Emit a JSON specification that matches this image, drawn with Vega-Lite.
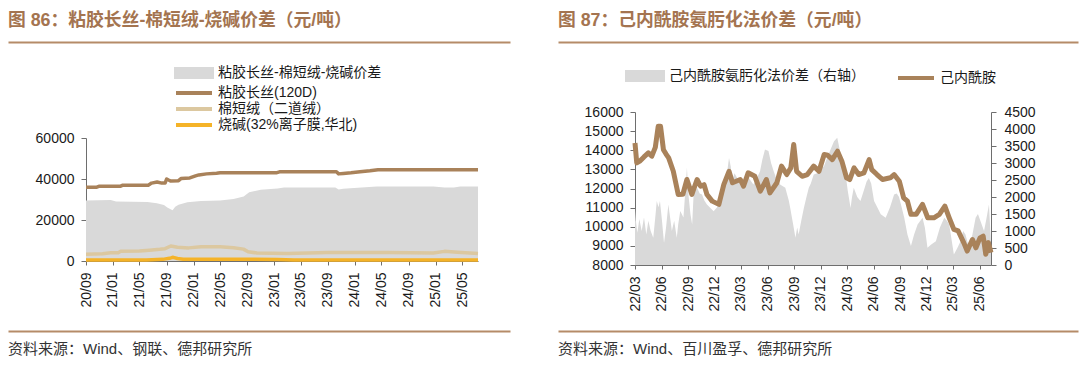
{
  "$schema": "https://vega.github.io/schema/vega-lite/v6.json",
  "background": "white",
  "padding": {"left": 8, "top": 0, "right": 0, "bottom": 0},
  "spacing": -30,
  "resolve": {"scale": {"color": "independent"}, "legend": {"color": "independent"}},
  "config": {
    "view": {"stroke": null},
    "font": "Liberation Sans, Noto Sans CJK SC",
    "axis": {"labelFont": "Liberation Sans, Noto Sans CJK SC", "labelFontSize": 14, "labelColor": "#1a1a1a", "domainColor": "#6e6e6e", "tickColor": "#6e6e6e", "tickSize": 5, "grid": false, "title": null},
    "legend": {"labelFont": "Liberation Sans, Noto Sans CJK SC", "labelFontSize": 14, "labelColor": "#1a1a1a", "padding": 0}
  },
  "datasets": {
    "spreadL": [
      {"date": "2020-09-01", "v": 29500}, {"date": "2020-12-22", "v": 29700}, {"date": "2021-01-15", "v": 29000},
      {"date": "2021-06-06", "v": 28800}, {"date": "2021-07-19", "v": 28200}, {"date": "2021-08-20", "v": 27300},
      {"date": "2021-09-04", "v": 26100}, {"date": "2021-09-28", "v": 24800}, {"date": "2021-10-10", "v": 26500},
      {"date": "2021-10-25", "v": 27500}, {"date": "2021-12-04", "v": 28600}, {"date": "2022-02-04", "v": 29300},
      {"date": "2022-05-01", "v": 29500}, {"date": "2022-07-01", "v": 30200}, {"date": "2022-08-16", "v": 31500},
      {"date": "2022-09-10", "v": 33500}, {"date": "2022-11-01", "v": 34800}, {"date": "2023-01-16", "v": 35400},
      {"date": "2023-02-15", "v": 35900}, {"date": "2023-10-05", "v": 35900}, {"date": "2023-10-20", "v": 34900},
      {"date": "2023-11-10", "v": 35200}, {"date": "2023-12-12", "v": 35500}, {"date": "2024-04-10", "v": 36300},
      {"date": "2024-12-22", "v": 36300}, {"date": "2025-02-10", "v": 35800}, {"date": "2025-03-25", "v": 35900},
      {"date": "2025-04-22", "v": 36300}, {"date": "2025-07-12", "v": 36400}
    ],
    "linesL": [
      {"date": "2020-09-01", "s": "棉短绒（二道绒）", "v": 3300}, {"date": "2020-11-15", "s": "棉短绒（二道绒）", "v": 3500},
      {"date": "2020-12-22", "s": "棉短绒（二道绒）", "v": 4000}, {"date": "2021-01-25", "s": "棉短绒（二道绒）", "v": 4000},
      {"date": "2021-02-05", "s": "棉短绒（二道绒）", "v": 4700}, {"date": "2021-05-01", "s": "棉短绒（二道绒）", "v": 4900},
      {"date": "2021-06-15", "s": "棉短绒（二道绒）", "v": 5300}, {"date": "2021-08-01", "s": "棉短绒（二道绒）", "v": 5700},
      {"date": "2021-08-25", "s": "棉短绒（二道绒）", "v": 6000}, {"date": "2021-09-20", "s": "棉短绒（二道绒）", "v": 7300},
      {"date": "2021-10-20", "s": "棉短绒（二道绒）", "v": 6700}, {"date": "2021-12-10", "s": "棉短绒（二道绒）", "v": 6400},
      {"date": "2022-02-04", "s": "棉短绒（二道绒）", "v": 7000}, {"date": "2022-05-01", "s": "棉短绒（二道绒）", "v": 7000},
      {"date": "2022-07-01", "s": "棉短绒（二道绒）", "v": 6500}, {"date": "2022-08-15", "s": "棉短绒（二道绒）", "v": 5800},
      {"date": "2022-09-05", "s": "棉短绒（二道绒）", "v": 4500}, {"date": "2022-10-15", "s": "棉短绒（二道绒）", "v": 3900},
      {"date": "2023-03-01", "s": "棉短绒（二道绒）", "v": 3700}, {"date": "2023-09-01", "s": "棉短绒（二道绒）", "v": 4100},
      {"date": "2024-06-01", "s": "棉短绒（二道绒）", "v": 4100}, {"date": "2024-12-22", "s": "棉短绒（二道绒）", "v": 3900},
      {"date": "2025-02-10", "s": "棉短绒（二道绒）", "v": 4700}, {"date": "2025-04-10", "s": "棉短绒（二道绒）", "v": 4300},
      {"date": "2025-07-12", "s": "棉短绒（二道绒）", "v": 3700},
      {"date": "2020-09-01", "s": "烧碱(32%离子膜,华北)", "v": 500}, {"date": "2021-06-01", "s": "烧碱(32%离子膜,华北)", "v": 500},
      {"date": "2021-08-15", "s": "烧碱(32%离子膜,华北)", "v": 800}, {"date": "2021-09-20", "s": "烧碱(32%离子膜,华北)", "v": 1500},
      {"date": "2021-10-01", "s": "烧碱(32%离子膜,华北)", "v": 1800}, {"date": "2021-10-20", "s": "烧碱(32%离子膜,华北)", "v": 1200},
      {"date": "2021-11-15", "s": "烧碱(32%离子膜,华北)", "v": 900}, {"date": "2022-10-01", "s": "烧碱(32%离子膜,华北)", "v": 900},
      {"date": "2023-01-15", "s": "烧碱(32%离子膜,华北)", "v": 700}, {"date": "2023-04-01", "s": "烧碱(32%离子膜,华北)", "v": 500},
      {"date": "2025-07-12", "s": "烧碱(32%离子膜,华北)", "v": 500},
      {"date": "2020-09-01", "s": "粘胶长丝(120D)", "v": 36000}, {"date": "2020-10-20", "s": "粘胶长丝(120D)", "v": 36000},
      {"date": "2020-11-01", "s": "粘胶长丝(120D)", "v": 36500}, {"date": "2021-02-05", "s": "粘胶长丝(120D)", "v": 36500},
      {"date": "2021-02-15", "s": "粘胶长丝(120D)", "v": 37000}, {"date": "2021-06-10", "s": "粘胶长丝(120D)", "v": 37000},
      {"date": "2021-06-25", "s": "粘胶长丝(120D)", "v": 38000}, {"date": "2021-07-20", "s": "粘胶长丝(120D)", "v": 38500},
      {"date": "2021-08-10", "s": "粘胶长丝(120D)", "v": 38000}, {"date": "2021-08-25", "s": "粘胶长丝(120D)", "v": 38000},
      {"date": "2021-09-01", "s": "粘胶长丝(120D)", "v": 40000}, {"date": "2021-09-10", "s": "粘胶长丝(120D)", "v": 39500},
      {"date": "2021-09-20", "s": "粘胶长丝(120D)", "v": 39000}, {"date": "2021-10-25", "s": "粘胶长丝(120D)", "v": 39200},
      {"date": "2021-11-05", "s": "粘胶长丝(120D)", "v": 40200}, {"date": "2021-12-15", "s": "粘胶长丝(120D)", "v": 40500},
      {"date": "2022-01-10", "s": "粘胶长丝(120D)", "v": 41500}, {"date": "2022-01-25", "s": "粘胶长丝(120D)", "v": 42000},
      {"date": "2022-03-01", "s": "粘胶长丝(120D)", "v": 42500}, {"date": "2022-04-15", "s": "粘胶长丝(120D)", "v": 42800},
      {"date": "2022-05-01", "s": "粘胶长丝(120D)", "v": 43000}, {"date": "2023-01-10", "s": "粘胶长丝(120D)", "v": 43000},
      {"date": "2023-01-25", "s": "粘胶长丝(120D)", "v": 43500}, {"date": "2023-10-10", "s": "粘胶长丝(120D)", "v": 43500},
      {"date": "2023-10-20", "s": "粘胶长丝(120D)", "v": 42500}, {"date": "2023-11-10", "s": "粘胶长丝(120D)", "v": 42700},
      {"date": "2023-12-15", "s": "粘胶长丝(120D)", "v": 43000}, {"date": "2024-01-25", "s": "粘胶长丝(120D)", "v": 43500},
      {"date": "2024-03-10", "s": "粘胶长丝(120D)", "v": 44000}, {"date": "2024-04-15", "s": "粘胶长丝(120D)", "v": 44500},
      {"date": "2025-07-12", "s": "粘胶长丝(120D)", "v": 44500}
    ],
    "spreadR": [
      {"date": "2022-03-01", "v": 1680}, {"date": "2022-03-04", "v": 1300}, {"date": "2022-03-09", "v": 950},
      {"date": "2022-03-16", "v": 1350}, {"date": "2022-03-24", "v": 1000}, {"date": "2022-04-01", "v": 1400},
      {"date": "2022-04-09", "v": 900}, {"date": "2022-04-16", "v": 1300}, {"date": "2022-04-24", "v": 1000},
      {"date": "2022-05-03", "v": 800}, {"date": "2022-05-11", "v": 1500}, {"date": "2022-05-15", "v": 1880},
      {"date": "2022-05-21", "v": 1700}, {"date": "2022-05-26", "v": 1880}, {"date": "2022-06-02", "v": 1300},
      {"date": "2022-06-09", "v": 650}, {"date": "2022-06-16", "v": 1100}, {"date": "2022-06-24", "v": 1780},
      {"date": "2022-06-30", "v": 1400}, {"date": "2022-07-06", "v": 1000}, {"date": "2022-07-14", "v": 1300},
      {"date": "2022-07-23", "v": 800}, {"date": "2022-07-28", "v": 1200}, {"date": "2022-08-04", "v": 1590},
      {"date": "2022-08-15", "v": 1400}, {"date": "2022-08-27", "v": 2860}, {"date": "2022-09-02", "v": 2000},
      {"date": "2022-09-08", "v": 1500}, {"date": "2022-09-14", "v": 1190}, {"date": "2022-09-19", "v": 2070},
      {"date": "2022-10-01", "v": 2270}, {"date": "2022-10-10", "v": 2100}, {"date": "2022-10-18", "v": 2070},
      {"date": "2022-10-26", "v": 1900}, {"date": "2022-11-04", "v": 1780}, {"date": "2022-11-16", "v": 1680},
      {"date": "2022-11-27", "v": 1580}, {"date": "2022-12-09", "v": 1700}, {"date": "2022-12-20", "v": 1880},
      {"date": "2023-01-01", "v": 2300}, {"date": "2023-01-13", "v": 2760}, {"date": "2023-01-19", "v": 3150},
      {"date": "2023-01-25", "v": 2900}, {"date": "2023-01-30", "v": 2470}, {"date": "2023-02-07", "v": 2700},
      {"date": "2023-02-16", "v": 2560}, {"date": "2023-02-28", "v": 2370}, {"date": "2023-03-10", "v": 2500},
      {"date": "2023-03-21", "v": 2660}, {"date": "2023-04-02", "v": 2500}, {"date": "2023-04-13", "v": 2370},
      {"date": "2023-04-25", "v": 2550}, {"date": "2023-05-06", "v": 2760}, {"date": "2023-05-14", "v": 3100},
      {"date": "2023-05-23", "v": 3400}, {"date": "2023-06-04", "v": 3350}, {"date": "2023-06-13", "v": 3000},
      {"date": "2023-06-22", "v": 2760}, {"date": "2023-07-03", "v": 2500}, {"date": "2023-07-14", "v": 2370},
      {"date": "2023-08-01", "v": 2270}, {"date": "2023-08-13", "v": 1900}, {"date": "2023-08-18", "v": 1680},
      {"date": "2023-08-28", "v": 1200}, {"date": "2023-09-05", "v": 800}, {"date": "2023-09-11", "v": 1100},
      {"date": "2023-09-16", "v": 900}, {"date": "2023-09-25", "v": 1300}, {"date": "2023-10-04", "v": 1680},
      {"date": "2023-10-13", "v": 2000}, {"date": "2023-10-21", "v": 2270}, {"date": "2023-10-28", "v": 2400},
      {"date": "2023-11-07", "v": 2660}, {"date": "2023-11-19", "v": 2700}, {"date": "2023-11-30", "v": 2860},
      {"date": "2023-12-12", "v": 2900}, {"date": "2023-12-23", "v": 3150}, {"date": "2024-01-04", "v": 3400},
      {"date": "2024-01-16", "v": 3640}, {"date": "2024-01-27", "v": 3740}, {"date": "2024-02-02", "v": 3500},
      {"date": "2024-02-08", "v": 3250}, {"date": "2024-02-17", "v": 3000}, {"date": "2024-02-25", "v": 2660},
      {"date": "2024-03-03", "v": 2200}, {"date": "2024-03-13", "v": 1680}, {"date": "2024-03-18", "v": 2000},
      {"date": "2024-03-24", "v": 2270}, {"date": "2024-04-05", "v": 2000}, {"date": "2024-04-16", "v": 1880},
      {"date": "2024-04-28", "v": 2200}, {"date": "2024-05-07", "v": 2450}, {"date": "2024-05-15", "v": 2560},
      {"date": "2024-05-23", "v": 2400}, {"date": "2024-06-02", "v": 1880}, {"date": "2024-06-13", "v": 1700},
      {"date": "2024-06-25", "v": 1490}, {"date": "2024-07-12", "v": 1390}, {"date": "2024-07-27", "v": 1700},
      {"date": "2024-08-10", "v": 2070}, {"date": "2024-08-19", "v": 2100}, {"date": "2024-08-27", "v": 2000},
      {"date": "2024-09-05", "v": 1700}, {"date": "2024-09-14", "v": 1390}, {"date": "2024-09-25", "v": 900},
      {"date": "2024-10-07", "v": 560}, {"date": "2024-10-18", "v": 900}, {"date": "2024-10-30", "v": 1190},
      {"date": "2024-11-16", "v": 1390}, {"date": "2024-11-24", "v": 1100}, {"date": "2024-12-03", "v": 510},
      {"date": "2024-12-16", "v": 600}, {"date": "2025-01-01", "v": 700}, {"date": "2025-01-15", "v": 1100},
      {"date": "2025-01-30", "v": 1390}, {"date": "2025-02-08", "v": 1300}, {"date": "2025-02-16", "v": 1190},
      {"date": "2025-02-25", "v": 700}, {"date": "2025-03-04", "v": 310}, {"date": "2025-03-16", "v": 500},
      {"date": "2025-03-27", "v": 700}, {"date": "2025-04-05", "v": 1000}, {"date": "2025-04-13", "v": 900},
      {"date": "2025-04-25", "v": 510}, {"date": "2025-05-07", "v": 900}, {"date": "2025-05-18", "v": 1390},
      {"date": "2025-05-26", "v": 1500}, {"date": "2025-06-04", "v": 1290}, {"date": "2025-06-16", "v": 1000},
      {"date": "2025-06-25", "v": 1400}, {"date": "2025-07-03", "v": 1780}, {"date": "2025-07-10", "v": 600}
    ],
    "priceR": [
      {"date": "2022-03-01", "v": 14380}, {"date": "2022-03-07", "v": 13340}, {"date": "2022-03-19", "v": 13450},
      {"date": "2022-04-01", "v": 13650}, {"date": "2022-04-16", "v": 13860}, {"date": "2022-04-28", "v": 13690},
      {"date": "2022-05-10", "v": 14150}, {"date": "2022-05-20", "v": 15250}, {"date": "2022-05-28", "v": 15250},
      {"date": "2022-06-07", "v": 14030}, {"date": "2022-06-16", "v": 13800}, {"date": "2022-06-25", "v": 13600},
      {"date": "2022-07-11", "v": 12900}, {"date": "2022-07-28", "v": 11690}, {"date": "2022-08-13", "v": 11700},
      {"date": "2022-08-27", "v": 12470}, {"date": "2022-09-13", "v": 11690}, {"date": "2022-10-01", "v": 12470},
      {"date": "2022-10-13", "v": 12120}, {"date": "2022-10-25", "v": 12200}, {"date": "2022-11-04", "v": 11690},
      {"date": "2022-11-22", "v": 11340}, {"date": "2022-12-15", "v": 11170}, {"date": "2023-01-01", "v": 12200},
      {"date": "2023-01-19", "v": 12900}, {"date": "2023-01-31", "v": 12300}, {"date": "2023-02-27", "v": 12470},
      {"date": "2023-03-10", "v": 12120}, {"date": "2023-03-26", "v": 12820}, {"date": "2023-04-18", "v": 12640},
      {"date": "2023-05-07", "v": 11860}, {"date": "2023-05-28", "v": 12470}, {"date": "2023-06-09", "v": 11770},
      {"date": "2023-07-03", "v": 12300}, {"date": "2023-07-19", "v": 13170}, {"date": "2023-08-06", "v": 12730},
      {"date": "2023-08-20", "v": 13080}, {"date": "2023-08-30", "v": 14300}, {"date": "2023-09-09", "v": 12900},
      {"date": "2023-09-28", "v": 12640}, {"date": "2023-10-16", "v": 12730}, {"date": "2023-11-07", "v": 13170},
      {"date": "2023-11-25", "v": 12900}, {"date": "2023-12-13", "v": 13780}, {"date": "2023-12-25", "v": 13740},
      {"date": "2024-01-10", "v": 13510}, {"date": "2024-01-28", "v": 13950}, {"date": "2024-02-12", "v": 13430},
      {"date": "2024-02-28", "v": 12560}, {"date": "2024-03-10", "v": 12470}, {"date": "2024-03-25", "v": 13080},
      {"date": "2024-04-10", "v": 12730}, {"date": "2024-04-28", "v": 12820}, {"date": "2024-05-16", "v": 13510},
      {"date": "2024-05-25", "v": 12990}, {"date": "2024-06-12", "v": 12730}, {"date": "2024-07-01", "v": 12470},
      {"date": "2024-07-28", "v": 12560}, {"date": "2024-08-10", "v": 12730}, {"date": "2024-08-28", "v": 12380},
      {"date": "2024-09-12", "v": 11510}, {"date": "2024-09-25", "v": 11340}, {"date": "2024-10-07", "v": 10650},
      {"date": "2024-10-25", "v": 10650}, {"date": "2024-11-16", "v": 11170}, {"date": "2024-12-04", "v": 10470},
      {"date": "2024-12-25", "v": 10470}, {"date": "2025-01-13", "v": 10650}, {"date": "2025-02-01", "v": 11080},
      {"date": "2025-02-16", "v": 10470}, {"date": "2025-03-04", "v": 9860}, {"date": "2025-03-19", "v": 9780},
      {"date": "2025-04-07", "v": 9170}, {"date": "2025-04-19", "v": 8730}, {"date": "2025-05-07", "v": 9330},
      {"date": "2025-05-19", "v": 8900}, {"date": "2025-06-02", "v": 9420}, {"date": "2025-06-13", "v": 9510},
      {"date": "2025-06-22", "v": 8560}, {"date": "2025-07-01", "v": 9170}, {"date": "2025-07-10", "v": 8650}
    ]
  },
  "hconcat": [
    {
      "spacing": 24,
      "resolve": {"scale": {"color": "independent"}, "legend": {"color": "independent"}},
      "vconcat": [
        {
          "width": 424, "height": 42,
          "data": {"values": [{"x": 0, "t": "图 86：粘胶长丝-棉短绒-烧碱价差（元/吨）"}]},
          "mark": {"type": "text", "align": "left", "baseline": "middle", "fontSize": 17.8, "fontWeight": "bold", "color": "#a47450"},
          "encoding": {
            "x": {"field": "x", "type": "quantitative", "scale": {"domain": [0, 1], "nice": false, "range": [-78, 424]}, "axis": {"orient": "bottom", "domain": true, "domainColor": "#b58b68", "domainWidth": 2, "ticks": false, "labels": false, "grid": false, "title": null}},
            "text": {"field": "t"}
          }
        },
        {
          "spacing": 23,
          "resolve": {"scale": {"color": "independent"}, "legend": {"color": "independent"}},
          "vconcat": [
            {
              "width": 392, "height": 123,
              "layer": [
                {
                  "data": {"name": "spreadL"},
                  "mark": {"type": "area"},
                  "encoding": {
                    "x": {"field": "date", "type": "temporal", "scale": {"type": "utc", "domain": [{"year": 2020, "month": 9, "date": 1, "utc": true}, {"year": 2025, "month": 7, "date": 12, "utc": true}]},
                      "axis": {"format": "%y/%m", "labelAngle": -90, "labelPadding": 7, "tickSize": 4, "tickCount": 30, "labelOverlap": false, "labelFlush": false,
                        "values": [{"year": 2020, "month": 9, "date": 1, "utc": true}, {"year": 2021, "month": 1, "date": 1, "utc": true}, {"year": 2021, "month": 5, "date": 1, "utc": true}, {"year": 2021, "month": 9, "date": 1, "utc": true}, {"year": 2022, "month": 1, "date": 1, "utc": true}, {"year": 2022, "month": 5, "date": 1, "utc": true}, {"year": 2022, "month": 9, "date": 1, "utc": true}, {"year": 2023, "month": 1, "date": 1, "utc": true}, {"year": 2023, "month": 5, "date": 1, "utc": true}, {"year": 2023, "month": 9, "date": 1, "utc": true}, {"year": 2024, "month": 1, "date": 1, "utc": true}, {"year": 2024, "month": 5, "date": 1, "utc": true}, {"year": 2024, "month": 9, "date": 1, "utc": true}, {"year": 2025, "month": 1, "date": 1, "utc": true}, {"year": 2025, "month": 5, "date": 1, "utc": true}]}},
                    "y": {"field": "v", "type": "quantitative", "scale": {"domain": [0, 60000], "nice": false}, "axis": {"values": [0, 20000, 40000, 60000], "format": "d", "minExtent": 78, "labelPadding": 7, "tickSize": 5}},
                    "color": {"datum": "粘胶长丝-棉短绒-烧碱价差", "type": "nominal", "title": null,
                      "scale": {"domain": ["粘胶长丝-棉短绒-烧碱价差", "粘胶长丝(120D)", "棉短绒（二道绒）", "烧碱(32%离子膜,华北)"], "range": ["#d9d9d9", "#a9825a", "#dcc8a0", "#f5b328"]},
                      "legend": {"orient": "none", "legendX": 101, "legendY": -72, "direction": "vertical", "title": null, "symbolSize": 100, "symbolStrokeWidth": 4, "labelOffset": 17, "rowPadding": 0, "labelLimit": 400,
                        "encode": {"symbols": {"update": {
                          "shape": {"signal": "datum.value === '粘胶长丝-棉短绒-烧碱价差' ? 'M-3.6,-0.8H3.6V0.8H-3.6Z' : 'M-3.6,0H3.6'"},
                          "stroke": {"signal": "datum.value === '粘胶长丝(120D)' ? '#a9825a' : datum.value === '棉短绒（二道绒）' ? '#dcc8a0' : datum.value === '烧碱(32%离子膜,华北)' ? '#f5b328' : 'transparent'"},
                          "fill": {"signal": "datum.value === '粘胶长丝-棉短绒-烧碱价差' ? '#d9d9d9' : 'transparent'"},
                          "opacity": {"value": 1}}}}}}
                  }
                },
                {
                  "data": {"name": "linesL"},
                  "mark": {"type": "line", "strokeWidth": 3.5, "strokeJoin": "round"},
                  "encoding": {
                    "x": {"field": "date", "type": "temporal"},
                    "y": {"field": "v", "type": "quantitative"},
                    "color": {"field": "s", "type": "nominal", "title": null}
                  }
                }
              ]
            },
            {
              "width": 424, "height": 36,
              "data": {"values": [{"x": 0, "t": "资料来源：Wind、钢联、德邦研究所"}]},
              "mark": {"type": "text", "align": "left", "baseline": "middle", "fontSize": 15, "color": "#333333"},
              "encoding": {
                "x": {"field": "x", "type": "quantitative", "scale": {"domain": [0, 1], "nice": false, "range": [-78, 424]}, "axis": {"orient": "top", "domain": true, "domainColor": "#b58b68", "domainWidth": 2, "ticks": false, "labels": false, "grid": false, "title": null}},
                "text": {"field": "t"}
              }
            }
          ]
        }
      ]
    },
    {
      "spacing": 27,
      "resolve": {"scale": {"color": "independent"}, "legend": {"color": "independent"}},
      "vconcat": [
        {
          "width": 443, "height": 42,
          "data": {"values": [{"x": 0, "t": "图 87：己内酰胺氨肟化法价差（元/吨）"}]},
          "mark": {"type": "text", "align": "left", "baseline": "middle", "fontSize": 17.8, "fontWeight": "bold", "color": "#a47450"},
          "encoding": {
            "x": {"field": "x", "type": "quantitative", "scale": {"domain": [0, 1], "nice": false, "range": [-77, 443]}, "axis": {"orient": "bottom", "domain": true, "domainColor": "#b58b68", "domainWidth": 2, "ticks": false, "labels": false, "grid": false, "title": null}},
            "text": {"field": "t"}
          }
        },
        {
          "spacing": 19,
          "resolve": {"scale": {"color": "independent"}, "legend": {"color": "independent"}},
          "vconcat": [
            {
              "width": 356, "height": 153,
              "resolve": {"scale": {"y": "independent"}},
              "layer": [
                {
                  "data": {"name": "spreadR"},
                  "mark": {"type": "area"},
                  "encoding": {
                    "x": {"field": "date", "type": "temporal", "scale": {"type": "utc", "domain": [{"year": 2022, "month": 3, "date": 1, "utc": true}, {"year": 2025, "month": 7, "date": 10, "utc": true}]},
                      "axis": {"format": "%y/%m", "labelAngle": -90, "labelPadding": 7, "tickSize": 4, "tickCount": 30, "labelOverlap": false, "labelFlush": false,
                        "values": [{"year": 2022, "month": 3, "date": 1, "utc": true}, {"year": 2022, "month": 6, "date": 1, "utc": true}, {"year": 2022, "month": 9, "date": 1, "utc": true}, {"year": 2022, "month": 12, "date": 1, "utc": true}, {"year": 2023, "month": 3, "date": 1, "utc": true}, {"year": 2023, "month": 6, "date": 1, "utc": true}, {"year": 2023, "month": 9, "date": 1, "utc": true}, {"year": 2023, "month": 12, "date": 1, "utc": true}, {"year": 2024, "month": 3, "date": 1, "utc": true}, {"year": 2024, "month": 6, "date": 1, "utc": true}, {"year": 2024, "month": 9, "date": 1, "utc": true}, {"year": 2024, "month": 12, "date": 1, "utc": true}, {"year": 2025, "month": 3, "date": 1, "utc": true}, {"year": 2025, "month": 6, "date": 1, "utc": true}]}},
                    "y": {"field": "v", "type": "quantitative", "scale": {"domain": [0, 4500], "nice": false}, "axis": {"orient": "right", "values": [0, 500, 1000, 1500, 2000, 2500, 3000, 3500, 4000, 4500], "tickCount": 30, "format": "d", "labelPadding": 8, "tickSize": 5}},
                    "color": {"datum": "己内酰胺氨肟化法价差（右轴）", "type": "nominal", "title": null,
                      "scale": {"domain": ["己内酰胺氨肟化法价差（右轴）", "己内酰胺"], "range": ["#d9d9d9", "#a9825a"]},
                      "legend": {"orient": "none", "legendX": 3, "legendY": -43, "direction": "horizontal", "title": null, "symbolSize": 100, "symbolStrokeWidth": 4, "labelOffset": 17, "columnPadding": 25, "labelLimit": 400,
                        "encode": {"symbols": {"update": {
                          "shape": {"signal": "datum.value === '己内酰胺' ? 'M-3.6,0H3.6' : 'M-3.6,-0.8H3.6V0.8H-3.6Z'"},
                          "stroke": {"signal": "datum.value === '己内酰胺' ? '#a9825a' : 'transparent'"},
                          "fill": {"signal": "datum.value === '己内酰胺' ? 'transparent' : '#d9d9d9'"},
                          "opacity": {"value": 1}}}}}}
                  }
                },
                {
                  "data": {"name": "priceR"},
                  "mark": {"type": "line", "strokeWidth": 5, "strokeJoin": "round"},
                  "encoding": {
                    "x": {"field": "date", "type": "temporal"},
                    "y": {"field": "v", "type": "quantitative", "scale": {"domain": [8000, 16000], "nice": false}, "axis": {"orient": "left", "values": [8000, 9000, 10000, 11000, 12000, 13000, 14000, 15000, 16000], "tickCount": 30, "format": "d", "minExtent": 77, "labelPadding": 7, "tickSize": 5}},
                    "color": {"datum": "己内酰胺", "type": "nominal", "title": null}
                  }
                }
              ]
            },
            {
              "width": 443, "height": 36,
              "data": {"values": [{"x": 0, "t": "资料来源：Wind、百川盈孚、德邦研究所"}]},
              "mark": {"type": "text", "align": "left", "baseline": "middle", "fontSize": 15, "color": "#333333"},
              "encoding": {
                "x": {"field": "x", "type": "quantitative", "scale": {"domain": [0, 1], "nice": false, "range": [-77, 443]}, "axis": {"orient": "top", "domain": true, "domainColor": "#b58b68", "domainWidth": 2, "ticks": false, "labels": false, "grid": false, "title": null}},
                "text": {"field": "t"}
              }
            }
          ]
        }
      ]
    }
  ]
}
